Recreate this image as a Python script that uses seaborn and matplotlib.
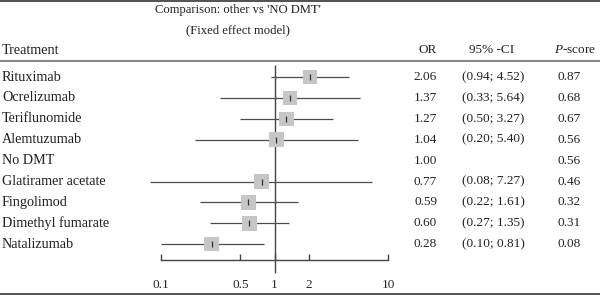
import numpy as np
import pandas as pd
import seaborn as sns
import matplotlib.pyplot as plt
from matplotlib import transforms
from matplotlib.lines import Line2D

treatments = ["Rituximab", "Ocrelizumab", "Teriflunomide", "Alemtuzumab", "No DMT",
              "Glatiramer acetate", "Fingolimod", "Dimethyl fumarate", "Natalizumab"]
odds = [2.06, 1.37, 1.27, 1.04, 1.00, 0.77, 0.59, 0.60, 0.28]
lower = [0.94, 0.33, 0.50, 0.20, np.nan, 0.08, 0.22, 0.27, 0.10]
upper = [4.52, 5.64, 3.27, 5.40, np.nan, 7.27, 1.61, 1.35, 0.81]
pscore = [0.87, 0.68, 0.67, 0.56, 0.56, 0.46, 0.32, 0.31, 0.08]
ticks = [0.1, 0.5, 1, 2, 10]
tick_labels = ["0.1", "0.5", "1", "2", "10"]

df = pd.DataFrame({"treatment": treatments, "OR": odds, "lo": lower, "hi": upper,
                   "p": pscore, "row": np.arange(len(treatments))})
ci_df = df.dropna()
pt_df = df[df["treatment"] != "No DMT"]

sns.set_style("white")
plt.rcParams["font.family"] = ["Liberation Serif", "DejaVu Serif"]
plt.rcParams["font.size"] = 9.5
plt.rcParams["mathtext.fontset"] = "custom"
plt.rcParams["mathtext.it"] = "Liberation Serif:italic"
plt.rcParams["mathtext.rm"] = "Liberation Serif"

fig = plt.figure(figsize=(6.0, 2.95), dpi=100)
ax = fig.add_axes([161 / 600, 0, 227 / 600, 1])
ax.set_xscale("log")
ax.set_xlim(0.1, 10)
ax.set_ylim(10.43, -3.684)

dark = "#444444"
# reference line at OR = 1
ax.vlines(1, -0.574, 9.378, color=dark, lw=1.0, zorder=1)
# confidence intervals
ax.hlines(ci_df["row"], ci_df["lo"], ci_df["hi"], color="#4d4d4d", lw=0.9,
          clip_on=False, zorder=2)
# squares
sns.scatterplot(data=pt_df, x="OR", y="row", marker="s", s=110, color="#c6c6c6",
                edgecolor="none", linewidth=0, ax=ax, zorder=3, clip_on=False)
ax.plot(pt_df["OR"], pt_df["row"], ls="none", marker="|", ms=4.5, mew=0.9,
        color="#333333", zorder=4)

for side in ["top", "right", "left"]:
    ax.spines[side].set_visible(False)
ax.spines["bottom"].set_position(("data", 8.756))
ax.spines["bottom"].set_color(dark)
ax.spines["bottom"].set_linewidth(1.0)
ax.set_xticks(ticks)
ax.set_xticklabels(tick_labels)
ax.minorticks_off()
ax.tick_params(axis="x", direction="in", length=4, width=1.0, color=dark,
               pad=14, labelsize=9.5, bottom=True)
ax.set_yticks([])
ax.set_xlabel("")
ax.set_ylabel("")
ax.patch.set_alpha(0)

tr = transforms.blended_transform_factory(fig.transFigure, ax.transData)
txt = "#222222"
for _, r in df.iterrows():
    ax.text(2 / 600, r["row"], r["treatment"], transform=tr, ha="left", va="center",
            color=txt, fontsize=10.2)
    ax.text(437 / 600, r["row"], f"{r['OR']:.2f}", transform=tr, ha="right", va="center", color=txt)
    if not np.isnan(r["lo"]):
        ax.text(493 / 600, r["row"], f"({r['lo']:.2f}; {r['hi']:.2f})", transform=tr,
                ha="center", va="center", color=txt)
    ax.text(569 / 600, r["row"], f"{r['p']:.2f}", transform=tr, ha="center", va="center", color=txt)

hdr = -1.29
ax.text(2 / 600, hdr, "Treatment", transform=tr, ha="left", va="center", color=txt, fontsize=10.2)
ax.text(437 / 600, hdr, "OR", transform=tr, ha="right", va="center", color=txt)
ax.text(492 / 600, hdr, "95% -CI", transform=tr, ha="center", va="center", color=txt)
ax.text(575 / 600, hdr, "$P$-score", transform=tr, ha="center", va="center", color=txt)

fig.text(238 / 600, 1 - 10 / 295, "Comparison: other vs 'NO DMT'", ha="center", va="center",
         color=txt, fontsize=9.1)
fig.text(238 / 600, 1 - 30 / 295, "(Fixed effect model)", ha="center", va="center",
         color=txt, fontsize=9.1)

fig.add_artist(Line2D([0, 1], [1 - 0.8 / 295, 1 - 0.8 / 295], transform=fig.transFigure, color="#333333", lw=1.2))
fig.add_artist(Line2D([0, 1], [1 - 61.5 / 295, 1 - 61.5 / 295], transform=fig.transFigure, color="#888888", lw=1.5))
fig.add_artist(Line2D([0, 1], [1 - 293.5 / 295, 1 - 293.5 / 295], transform=fig.transFigure, color="#333333", lw=1.2))

fig.savefig("out.png", dpi=100)
